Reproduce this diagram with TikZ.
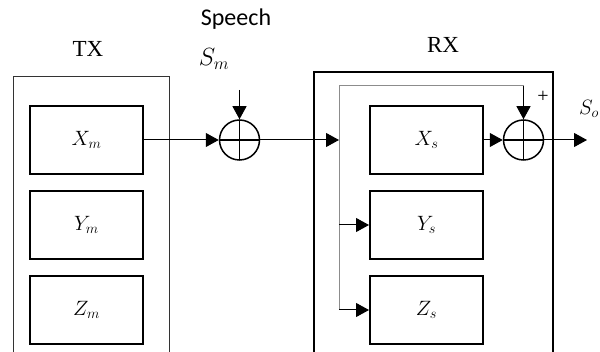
\documentclass[tikz,border=0pt]{standalone}
\usepackage{fontspec}
\setmainfont{Liberation Serif}
\newfontfamily\speechfont{Carlito}
\usetikzlibrary{positioning, arrows.meta}

\begin{document}
\begin{tikzpicture}[x=1pt, y=-1pt, node distance=15pt and 20pt,
  blk/.style={draw, line width=2pt, minimum width=113pt, minimum height=68pt, inner sep=0pt, font=\fontsize{21}{25}\selectfont},
  outer/.style={draw, minimum height=300pt, anchor=north west, inner sep=0pt},
  sum/.style={draw, circle, line width=1.5pt, minimum size=40pt, inner sep=0pt,
    path picture={\draw[line width=1.5pt] (path picture bounding box.north) -- (path picture bounding box.south)
      (path picture bounding box.west) -- (path picture bounding box.east);}},
  lbl/.style={font=\fontsize{23}{27}\selectfont, inner sep=0pt},
  arr/.style={-{Triangle[length=13pt, width=14pt]}, line width=1pt},
  fb/.style={draw=black!45, line width=1pt}]
\useasboundingbox (0,0) rectangle (600,352);
% transmitter side
\node[outer, line width=1pt, draw=black!80, minimum width=156pt] (tx) at (13,76) {};
\node[lbl] (txl) at (88,49) {TX};
\node[blk] (xm) at (86.5,140) {$X_m$};
\node[blk, below=of xm] (ym) {$Y_m$};
\node[blk, below=of ym] (zm) {$Z_m$};
% channel
\node[font=\speechfont\fontsize{24}{28}\selectfont, inner sep=0pt] (sp) at (236,19) {Speech};
\node[lbl] (sm) at (214,59) {$S_m$};
\node[sum] (s1) at (239.5,140) {};
\coordinate (spin) at (239.5,90);
% receiver side
\node[outer, line width=2pt, minimum width=239pt] (rx) at (313,71) {};
\node[lbl] (rxl) at (443,45) {RX};
\node[blk] (xs) at (426.5,140) {$X_s$};
\node[blk, below=of xs] (ys) {$Y_s$};
\node[blk, below=of ys] (zs) {$Z_s$};
\node[sum] (s2) at (523.5,140) {};
\node[font=\fontsize{20}{22}\selectfont, inner sep=0pt] (plus) at (543,97) {+};
\node[font=\fontsize{20}{24}\selectfont, inner sep=0pt, anchor=east] (so) at (599,109) {$S_o$};
\coordinate (j) at (339,140);
\coordinate (ft) at (523.5,86);
\coordinate (out) at (587,140);

\draw[arr] (xm) -- (s1);
\draw[arr] (spin) -- (s1);
\draw[arr] (s1) -- (j);
\draw[fb] (j) |- (ft);
\draw[arr] (ft) -- (s2);
\draw[fb] (j) -- (j |- zs.west);
\draw[arr] (j |- ys.west) -- (ys);
\draw[arr] (j |- zs.west) -- (zs);
\draw[arr] (xs) -- (s2);
\draw[arr] (s2) -- (out);
\end{tikzpicture}
\end{document}
